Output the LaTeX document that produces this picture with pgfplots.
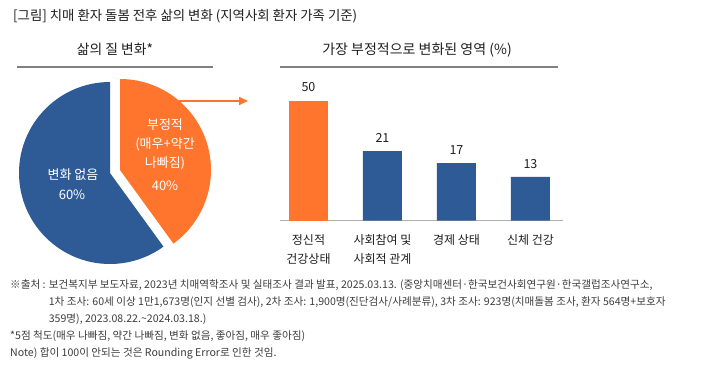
\documentclass[border=0pt]{standalone}
\usepackage{fontspec}
\setmainfont{Noto Sans CJK KR}
\usepackage{pgfplots}
\pgfplotsset{compat=1.18}
\usetikzlibrary{arrows.meta}
\definecolor{orangeC}{RGB}{255,117,46}
\definecolor{blueC}{RGB}{46,91,150}
\definecolor{lineG}{RGB}{128,128,128}
\definecolor{axisG}{RGB}{175,175,175}
\definecolor{txt}{RGB}{30,30,30}
\definecolor{foot}{RGB}{60,60,60}
\def\pieA{60}% 변화 없음
\def\pieB{40}% 부정적
\begin{document}
\begin{tikzpicture}
\path[use as bounding box] (0pt,0pt) rectangle (715pt,-372pt);
% titles
\node[anchor=base west, inner sep=0pt, text=txt, font=\fontsize{13.4}{16}\selectfont] at (13pt,-20.5pt) {[그림] 치매 환자 돌봄 전후 삶의 변화 (지역사회 환자 가족 기준)};
\node[anchor=base, inner sep=0pt, text=txt, font=\fontsize{13.8}{16}\selectfont] at (115pt,-54.5pt) {삶의 질 변화*};
\node[anchor=base, inner sep=0pt, text=txt, font=\fontsize{14}{16}\selectfont] at (417pt,-54.5pt) {가장 부정적으로 변화된 영역 (\%)};
\draw[lineG, line width=1.3pt] (17pt,-67pt) -- (213pt,-67pt);
\draw[lineG, line width=1.3pt] (280pt,-67pt) -- (558pt,-67pt);
% arrow
\draw[orangeC, line width=1.6pt, -{Triangle[length=9pt,width=8pt]}] (176pt,-101pt) -- (248pt,-101pt);
% pie
\begin{axis}[hide axis, scale only axis, x=91pt, y=91pt, xmin=-1, xmax=1, ymin=-1, ymax=1,
  anchor=center, at={(110pt,-173pt)}, clip=false]
\pgfmathsetmacro{\endA}{90+3.6*\pieA}
\pgfmathsetmacro{\endB}{90-3.6*\pieB}
\fill[blueC] (axis cs:0,0) -- (axis cs:0,1) arc[start angle=90, end angle=\endA, radius=91pt] -- cycle;
\fill[orangeC] ([shift={(10pt,3pt)}]axis cs:0,0) -- ([shift={(10pt,3pt)}]axis cs:0,1) arc[start angle=90, end angle=\endB, radius=91pt] -- cycle;
\end{axis}
% pie labels
\begin{scope}[every node/.style={anchor=base, inner sep=0pt, text=white, font=\fontsize{13}{16}\selectfont}]
\node at (165pt,-129.7pt) {부정적};
\node at (165pt,-148pt) {(매우+약간};
\node at (165pt,-167.4pt) {나빠짐)};
\node at (165pt,-190.7pt) {40\%};
\node at (73pt,-179.7pt) {변화 없음};
\node at (72pt,-199.7pt) {60\%};
\end{scope}
% bar chart
\begin{axis}[scale only axis, width=283pt, height=120pt,
  anchor=south west, at={(280pt,-220.7pt)},
  xmin=-0.385, xmax=3.44, ymin=0, ymax=50,
  axis x line=bottom, axis y line=none,
  x axis line style={draw=axisG, line width=0.9pt, -},
  xtick={0,1,2,3},
  xticklabels={{정신적\\건강상태},{사회참여 및\\사회적 관계},{경제 상태},{신체 건강}},
  major tick length=0pt,
  xticklabel style={anchor=north, inner sep=0pt, yshift=-13.5pt, align=center, text=txt, font=\fontsize{12}{19}\selectfont},
  ytick=\empty,
  ybar, bar width=39pt, bar shift=0pt,
  point meta=explicit symbolic,
  nodes near coords,
  every node near coord/.append style={anchor=south, inner sep=0pt, yshift=8.4pt, text=txt, font=\fontsize{12.5}{15}\selectfont},
  clip=false]
\addplot[fill=orangeC, draw=none] table[x=x, y=y, meta=lab, row sep=\\] {x y lab\\ 0 50 50\\};
\addplot[fill=blueC, draw=none] table[x=x, y=y, meta=lab, row sep=\\] {x y lab\\ 1 29.0 21\\ 2 24.0 17\\ 3 18.3 13\\};
\end{axis}
% footnotes
\begin{scope}[every node/.style={anchor=base west, inner sep=0pt, text=foot, font=\fontsize{10.6}{17}\selectfont}]
\node at (10pt,-288pt) {※출처 : 보건복지부 보도자료, 2023년 치매역학조사 및 실태조사 결과 발표, 2025.03.13. (중앙치매센터·한국보건사회연구원·한국갤럽조사연구소,};
\node at (10pt,-305pt) {\phantom{※출처 : }1차 조사: 60세 이상 1만1,673명(인지 선별 검사), 2차 조사: 1,900명(진단검사/사례분류), 3차 조사: 923명(치매돌봄 조사, 환자 564명+보호자};
\node at (10pt,-322pt) {\phantom{※출처 : }359명), 2023.08.22.\textasciitilde2024.03.18.)};
\node at (10pt,-339pt) {*5점 척도(매우 나빠짐, 약간 나빠짐, 변화 없음, 좋아짐, 매우 좋아짐)};
\node at (10pt,-356pt) {Note) 합이 100이 안되는 것은 Rounding Error로 인한 것임.};
\end{scope}
\end{tikzpicture}
\end{document}
